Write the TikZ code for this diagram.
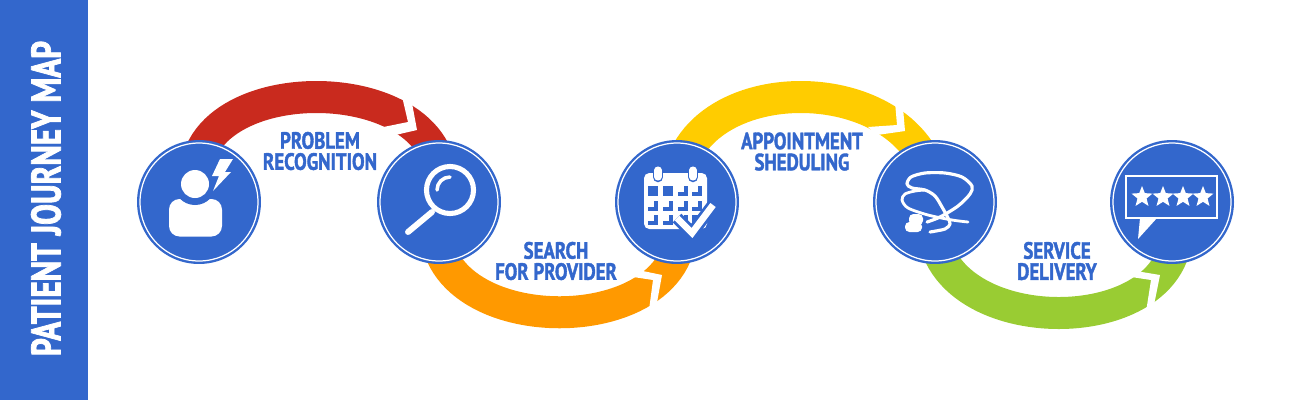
\documentclass[tikz,border=0pt]{standalone}
\usepackage{fontspec}
\usetikzlibrary{backgrounds,shapes.geometric}
\newfontfamily\labelfont{PT Sans}[FakeStretch=0.8,FakeBold=1.6]
\newfontfamily\titlefont{PT Sans}[FakeStretch=0.755,FakeBold=1.8]
\definecolor{journeyblue}{HTML}{3367CC}
\definecolor{bandred}{HTML}{C92A1E}
\definecolor{bandorange}{HTML}{FF9900}
\definecolor{bandyellow}{HTML}{FFCC00}
\definecolor{bandgreen}{HTML}{99CC33}
\tikzstyle{stopdisc} = [circle, fill=journeyblue, minimum size=2.48cm, inner sep=0pt,
  path picture={\draw[white, line width=0.7pt] (path picture bounding box.center) circle (1.18cm);}]
\tikzstyle{band} = [line width=0.64cm]
\tikzstyle{notch} = [fill=white]
\tikzstyle{caption} = [text=journeyblue, align=center, inner sep=0pt,
  font=\labelfont\bfseries\fontsize{13.4}{12}\selectfont]
\tikzstyle{iconline} = [white, line cap=round, line join=round]
\tikzstyle{starmark} = [star, star points=5, star point ratio=2.3, fill=white, minimum size=0.44cm, inner sep=0pt]

\begin{document}
\begin{tikzpicture}[x=0.02cm, y=-0.02cm]
  \useasboundingbox (0,0) rectangle (1300,400);
  \fill[journeyblue] (0,0) rectangle (88,400);
  \node[rotate=90, text=white, inner sep=0pt, font=\titlefont\bfseries\fontsize{23.5}{23.5}\selectfont] (title) at (46,198.5) {PATIENT JOURNEY MAP};

  % stops
  \node[stopdisc] (person) at (199,202) {};
  \node[stopdisc] (search) at (439,202) {};
  \node[stopdisc] (calendar) at (677,202) {};
  \node[stopdisc] (doctor) at (935,202) {};
  \node[stopdisc] (review) at (1172,202) {};

  % bands behind the stops
  \begin{scope}[on background layer]
    \draw[band, bandred] (person.center) .. controls +(-40,-140) and +(33,-140) .. (search.center);
    \draw[band, bandorange] (search.center) .. controls +(-39,147) and +(43,147) .. (calendar.center);
    \draw[band, bandyellow] (calendar.center) .. controls +(-10,-140) and +(-4,-140) .. (doctor.center);
    \draw[band, bandgreen] (doctor.center) .. controls +(-32,148) and +(46,148) .. (review.center);
    \fill[notch] (401,92) -- (408,122) -- (381,127.5) -- (391,136) -- (417,130) -- (410.5,95) -- cycle;
    \fill[notch] (649,310) -- (653,280) -- (630,276.5) -- (638,270) -- (662,275) -- (656,308) -- cycle;
    \fill[notch] (894.5,96) -- (897,125) -- (868,127) -- (877,135) -- (905,131) -- (902.5,102) -- cycle;
    \fill[notch] (1146,312) -- (1151,280) -- (1128,276.5) -- (1136,271) -- (1160,275) -- (1153,310) -- cycle;
  \end{scope}

  % labels
  \node[caption] (problem) at (320,151) {PROBLEM\\RECOGNITION};
  \node[caption] (provider) at (556,261) {SEARCH\\FOR PROVIDER};
  \node[caption] (sheduling) at (802,151.5) {APPOINTMENT\\SHEDULING};
  \node[caption] (delivery) at (1057,261) {SERVICE\\DELIVERY};

  % person icon
  \fill[white, rounded corners=6pt] (169,236.5) -- (169,199) -- (222,199) -- (222,236.5) -- cycle;
  \fill[journeyblue] (195,184) circle (21);
  \fill[white] (195,184) circle (14);
  \fill[white] (220,159) -- (233,159) -- (225,172) -- (231,172) -- (213,191) -- (219,176) -- (212,176) -- cycle;

  % magnifier icon
  \draw[iconline, line width=2.9pt] (450,190) circle (23.5);
  \draw[iconline, line width=2pt] (437,190) arc (180:270:13);
  \draw[iconline, line width=3.4pt] (432,212) -- (408,232);

  % calendar icon
  \fill[white, rounded corners=3pt] (644,229) -- (644,173) -- (707,173) -- (707,229) -- cycle;
  \foreach \ringx in {658,693} {
    \draw[journeyblue, line width=6pt, line cap=round] (\ringx,170.5) -- (\ringx,177);
    \draw[white, line width=4pt, line cap=round] (\ringx,170) -- (\ringx,177);
  }
  \foreach \cellx in {648,663,678,692} {
    \foreach \celly in {186,201,215} {
      \fill[journeyblue] (\cellx,\celly) rectangle +(10,10);
    }
  }
  \foreach \cellx/\celly in {678/186,692/186,648/201,663/201,678/201,692/201,648/215,663/215,678/215} {
    \fill[white] (\cellx,\celly) rectangle +(6,6);
  }
  \draw[journeyblue, line width=7pt, line join=miter] (677,218) -- (692,233) -- (713,205);
  \draw[white, line width=3.8pt, line join=miter] (677,218) -- (692,233) -- (713,205);

  % stethoscope icon
  \draw[iconline, line width=1.8pt] plot[smooth] coordinates {(927,222) (940,217) (958,206) (970,194) (972,186) (962,177) (945,173) (925,173) (911,177) (907,184) (912,188) (925,190) (935,196) (942,207) (948,218) (950,224) (945,229) (930,232)};
  \draw[iconline, line width=1.6pt] plot[smooth] coordinates {(968,222) (952,220) (928,215) (908,208) (902,200) (905,194) (915,191) (925,190)};
  \fill[white, rounded corners=2.5pt] (909,214) rectangle (923,225);
  \fill[white, rounded corners=2.5pt] (905,222) rectangle (922,232);

  % review icon
  \draw[white, line width=1.4pt] (1126,176) rectangle (1217,218);
  \fill[white] (1140,218) -- (1138,239) -- (1157,218) -- cycle;
  \node[starmark] (star1) at (1142,197) {};
  \node[starmark] (star2) at (1163,197) {};
  \node[starmark] (star3) at (1183,197) {};
  \node[starmark] (star4) at (1203,197) {};
\end{tikzpicture}
\end{document}
